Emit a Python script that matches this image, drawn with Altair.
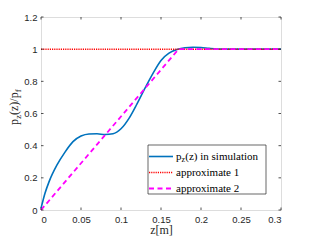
import altair as alt
import pandas as pd

# --- data ---
z_sim = [0, 0.005, 0.01, 0.02, 0.03, 0.04, 0.05, 0.06, 0.07, 0.08, 0.09, 0.1,
         0.11, 0.12, 0.13, 0.14, 0.15, 0.16, 0.17, 0.18, 0.19, 0.2, 0.21, 0.22,
         0.23, 0.25, 0.3]
p_sim = [0.01, 0.104, 0.175, 0.28, 0.36, 0.425, 0.46, 0.473, 0.474, 0.469, 0.474,
         0.505, 0.57, 0.66, 0.758, 0.85, 0.93, 0.975, 0.998, 1.009, 1.012, 1.01,
         1.005, 1.001, 1.0, 1.0, 1.0]
z_app1 = [0, 0.3]
p_app1 = [1, 1]
z_app2 = [0, 0.172, 0.3]
p_app2 = [0, 1, 1]
x_ticks = [0, 0.05, 0.1, 0.15, 0.2, 0.25, 0.3]
y_ticks = [0, 0.2, 0.4, 0.6, 0.8, 1.0, 1.2]
legend_labels = ["in simulation", "approximate 1", "approximate 2"]

W, H = 240, 193
AX = "#262626"
SANS = "Liberation Sans"
SERIF = "Liberation Serif"

xs = alt.Scale(domain=[0, 0.3], nice=False, zero=False)
ys = alt.Scale(domain=[0, 1.2], nice=False, zero=False)

XAX = alt.Axis(values=x_ticks, format="~g", domain=False, ticks=False, grid=False,
               labelFont=SANS, labelFontSize=9.5, labelColor=AX, labelPadding=4,
               titleFont=SERIF, titleFontSize=12, titleFontWeight="normal",
               titleColor=AX, titlePadding=1)
YAX = alt.Axis(values=y_ticks, format="~g", domain=False, ticks=False, grid=False,
               labelFont=SANS, labelFontSize=9.5, labelColor=AX, labelPadding=4)

def X(field="z"):
    return alt.X(f"{field}:Q", scale=xs, title="z[m]", axis=XAX)

def Y(field="p"):
    return alt.Y(f"{field}:Q", scale=ys, title=None, axis=YAX)

df_sim = pd.DataFrame({"z": z_sim, "p": p_sim})
df_a1 = pd.DataFrame({"z": z_app1, "p": p_app1})
df_a2 = pd.DataFrame({"z": z_app2, "p": p_app2})
df_xt = pd.DataFrame({"z": x_ticks})
df_yt = pd.DataFrame({"p": y_ticks})
one = pd.DataFrame({"a": [0]})

sim = alt.Chart(df_sim).mark_line(color="#0072BD", strokeWidth=1.6, interpolate="monotone").encode(
    x=X(), y=Y())
a1 = alt.Chart(df_a1).mark_line(color="#FF0000", strokeWidth=1.5, strokeDash=[1.2, 1]).encode(
    x=X(), y=Y())
a2 = alt.Chart(df_a2).mark_line(color="#FF00FF", strokeWidth=1.8, strokeDash=[5, 3.5]).encode(
    x=X(), y=Y())

# inward ticks (box style)
tl = 2.5
xb = alt.Chart(df_xt).mark_rule(color=AX, strokeWidth=0.8).encode(
    x=X(), y=alt.value(H), y2=alt.value(H - tl))
xtp = alt.Chart(df_xt).mark_rule(color=AX, strokeWidth=0.8).encode(
    x=X(), y=alt.value(0), y2=alt.value(tl))
yl = alt.Chart(df_yt).mark_rule(color=AX, strokeWidth=0.8).encode(
    y=Y(), x=alt.value(0), x2=alt.value(tl))
yr = alt.Chart(df_yt).mark_rule(color=AX, strokeWidth=0.8).encode(
    y=Y(), x=alt.value(W), x2=alt.value(W - tl))

# y title p_z(z)/p_f composed of pieces (rotated)
YB = -23
def ytxt(s, y, size, dx):
    return alt.Chart(one).mark_text(angle=270, align="left", baseline="alphabetic",
                                    font=SERIF, fontSize=size, color=AX).encode(
        x=alt.value(YB + dx), y=alt.value(y), text=alt.value(s))

ytitle = [ytxt("p", 108, 12, 0), ytxt("z", 102, 9, 2.5), ytxt("(z)/p", 98, 12, 0),
          ytxt("f", 75.3, 9, 2.5)]

# legend
box = alt.Chart(one).mark_rect(fill="white", stroke=AX, strokeWidth=0.7).encode(
    x=alt.value(107), x2=alt.value(225), y=alt.value(128), y2=alt.value(177))
rows = [139.5, 155.5, 171.5]
sym1 = alt.Chart(one).mark_rule(color="#0072BD", strokeWidth=1.6).encode(
    x=alt.value(108), x2=alt.value(132), y=alt.value(rows[0]))
sym2 = alt.Chart(one).mark_rule(color="#FF0000", strokeWidth=1.5, strokeDash=[1.2, 1]).encode(
    x=alt.value(108), x2=alt.value(132), y=alt.value(rows[1]))
sym3 = alt.Chart(one).mark_rule(color="#FF00FF", strokeWidth=1.8, strokeDash=[5, 3.5]).encode(
    x=alt.value(108), x2=alt.value(132), y=alt.value(rows[2]))

def ltxt(s, x, y, size):
    return alt.Chart(one).mark_text(align="left", baseline="middle", font=SERIF,
                                    fontSize=size, color="black").encode(
        x=alt.value(x), y=alt.value(y), text=alt.value(s))

leg_text = [
    ltxt("p", 135, rows[0], 11),
    ltxt("z", 140.5, rows[0] + 3, 8),
    ltxt("(z) " + legend_labels[0], 144.3, rows[0], 11),
    ltxt(legend_labels[1], 135, rows[1], 11),
    ltxt(legend_labels[2], 135, rows[2], 11),
]

chart = alt.layer(sim, a1, a2, xb, xtp, yl, yr, *ytitle, box, sym1, sym2, sym3, *leg_text).properties(
    width=W, height=H,
    autosize=alt.AutoSizeParams(type="none"),
    padding={"left": 33, "top": 9, "right": 6, "bottom": 26},
).configure_view(stroke=AX, strokeWidth=0.8).configure(background="white")

chart.save("out.html", embed_options={"renderer": "svg", "actions": False})
